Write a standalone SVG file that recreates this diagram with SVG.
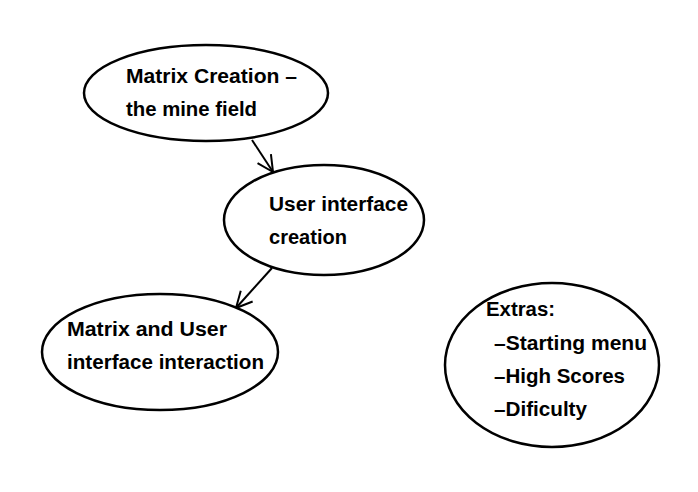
<svg xmlns="http://www.w3.org/2000/svg" width="698" height="492" viewBox="0 0 698 492">
<style>
.n{fill:#fff;stroke:#000;stroke-width:2.5}
.t{font-family:"Liberation Sans",Arial,sans-serif;font-weight:bold;font-size:20px;fill:#000}
.c{stroke:#000;stroke-width:2;fill:none}
</style>
<defs>
<marker id="a" viewBox="0 0 20 20" refX="18" refY="10" markerWidth="20" markerHeight="20" markerUnits="userSpaceOnUse" orient="auto">
<path d="M2,2 L18,10 L2,18" fill="none" stroke="#000" stroke-width="2"/>
</marker>
</defs>
<rect width="698" height="492" fill="#fff"/>
<g id="connectors">
<line class="c" x1="252" y1="140" x2="273" y2="172" marker-end="url(#a)"/>
<line class="c" x1="272" y1="268" x2="236" y2="308" marker-end="url(#a)"/>
</g>
<g id="matrix-creation">
<ellipse class="n" cx="206" cy="93" rx="122" ry="48"/>
<text class="t" x="126" y="83" textLength="171" lengthAdjust="spacingAndGlyphs">Matrix Creation –</text>
<text class="t" x="126" y="116" textLength="131" lengthAdjust="spacingAndGlyphs">the mine field</text>
</g>
<g id="ui-creation">
<ellipse class="n" cx="324" cy="220" rx="100" ry="55"/>
<text class="t" x="269" y="211" textLength="139" lengthAdjust="spacingAndGlyphs">User interface</text>
<text class="t" x="269" y="244" textLength="78" lengthAdjust="spacingAndGlyphs">creation</text>
</g>
<g id="interaction">
<ellipse class="n" cx="160" cy="352" rx="118" ry="58"/>
<text class="t" x="67" y="336" textLength="160" lengthAdjust="spacingAndGlyphs">Matrix and User</text>
<text class="t" x="67" y="369" textLength="197" lengthAdjust="spacingAndGlyphs">interface interaction</text>
</g>
<g id="extras">
<ellipse class="n" cx="552" cy="365" rx="107" ry="82"/>
<text class="t" x="486" y="316" textLength="69" lengthAdjust="spacingAndGlyphs">Extras:</text>
<text class="t" x="494" y="350" textLength="153" lengthAdjust="spacingAndGlyphs">–Starting menu</text>
<text class="t" x="494" y="383" textLength="131" lengthAdjust="spacingAndGlyphs">–High Scores</text>
<text class="t" x="494" y="416" textLength="93" lengthAdjust="spacingAndGlyphs">–Dificulty</text>
</g>
</svg>
